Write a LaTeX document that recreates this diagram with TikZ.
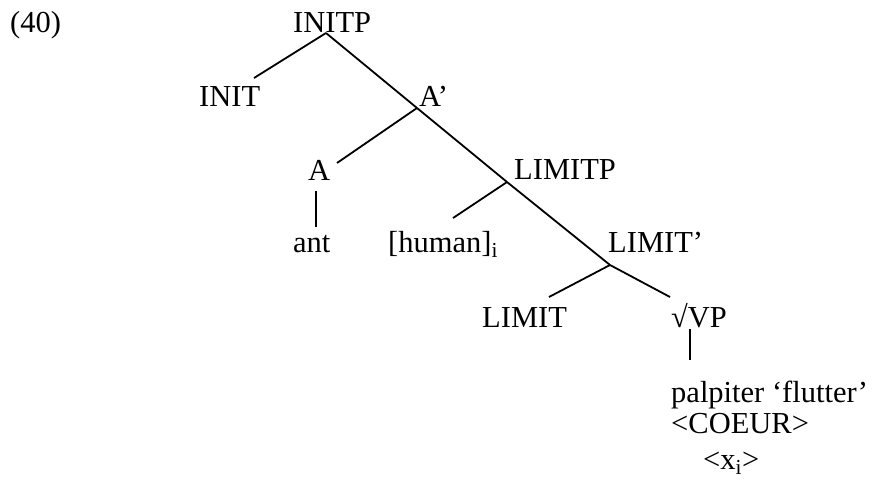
\documentclass[tikz,border=0pt]{standalone}
\usepackage{fontspec}
\setmainfont{Liberation Serif}
\usetikzlibrary{positioning}

\begin{document}
\begin{tikzpicture}[
    x=1pt, y=-1pt,
    lab/.style={anchor=base west, inner sep=0pt,
                font=\fontsize{30.5}{36}\selectfont},
    branch/.style={line width=1.8pt}
]
\useasboundingbox (0,0) rectangle (874,479);

% Example number
\node[lab] (ex) at (10,32) {(40)};

% Labels
\node[lab] (initp) at (293,32) {INITP};
\node[lab] (init) at (199,106) {INIT};
\node[lab] (abar) at (419,106) {A'};
\node[lab] (a) at (308,180) {A};
\node[lab] (limitp) at (514,179) {LIMITP};
\node[lab] (ant) at (293,252) {ant};
\node[lab] (human) at (388,252) {[human]\textsubscript{i}};
\node[lab] (limitbar) at (608,252) {LIMIT'};
\node[lab] (limit) at (482,327) {LIMIT};
\node[lab] (vp) at (671,327) {√VP};
\node[lab] (pal) at (671,402) {palpiter `flutter'};
\node[lab] (coeur) at (671,433) {<COEUR>};
\node[lab] (xi) at (703,469) {<x\textsubscript{i}>};

% Branching points
\coordinate (initp-f) at (326,33);
\coordinate (abar-f) at (417,108);
\coordinate (limitp-f) at (507,182);
\coordinate (limitbar-f) at (610,265);
\coordinate (a-f) at (316,191);
\coordinate (vp-f) at (690,329);

% Ends of the branches
\coordinate (init-h) at (254,78);
\coordinate (a-h) at (337,163);
\coordinate (human-h) at (453,218);
\coordinate (limit-h) at (549,297);
\coordinate (vp-h) at (670,297);
\coordinate (ant-h) at (316,227);
\coordinate (pal-h) at (690,360);

% Branches
\draw[branch] (initp-f) -- (init-h);
\draw[branch] (initp-f) -- (abar-f);
\draw[branch] (abar-f) -- (a-h);
\draw[branch] (abar-f) -- (limitp-f);
\draw[branch] (limitp-f) -- (human-h);
\draw[branch] (limitp-f) -- (limitbar-f);
\draw[branch] (limitbar-f) -- (limit-h);
\draw[branch] (limitbar-f) -- (vp-h);
\draw[branch] (a-f) -- (ant-h);
\draw[branch] (vp-f) -- (pal-h);

\end{tikzpicture}
\end{document}
